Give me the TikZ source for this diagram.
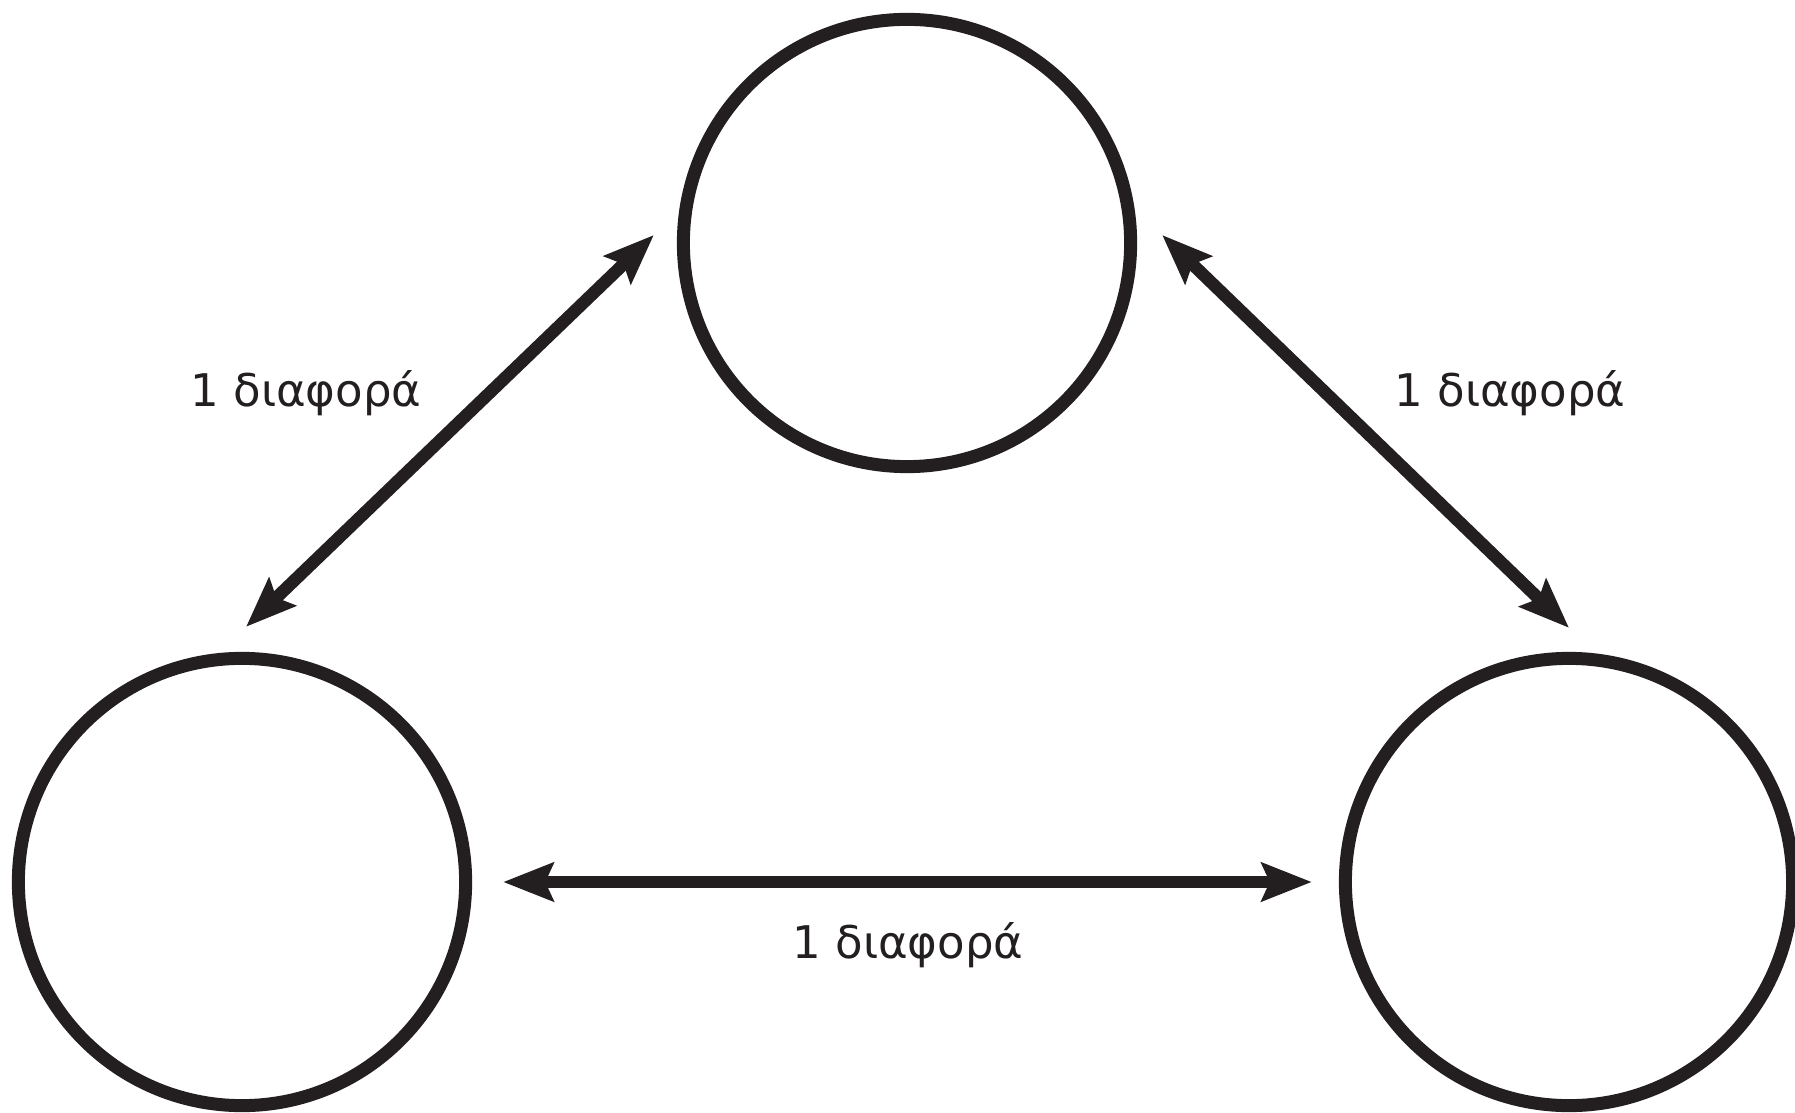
\documentclass[tikz,border=0pt]{standalone}
\usepackage{fontspec}
\setmainfont{DejaVu Sans}
\usepackage{tikz}
\usetikzlibrary{arrows.meta,calc}
\definecolor{ink}{HTML}{231F20}
\tikzset{x=0.01cm,y=-0.01cm,
circ/.style={circle,draw=ink,line width=0.13cm,minimum size=4.47cm,inner sep=0pt},
dbl/.style={draw=ink,line width=0.125cm,
  {Stealth[length=5mm,width=3.8mm,inset=0.8mm]}-{Stealth[length=5mm,width=3.8mm,inset=0.8mm]}},
el/.style={text=ink,font=\fontsize{12.8pt}{15pt}\selectfont,anchor=base,inner sep=0pt},
}
\begin{document}
\begin{tikzpicture}
	\useasboundingbox (0,0) rectangle (1795,1113);
	\node[circ] (top) at (907,243) {};
	\node[circ] (bl) at (242,882) {};
	\node[circ] (br) at (1569,882) {};

	\path
	($(bl.north)+(4,-25)$) edge[dbl] ($(top.west)+(-23,-8)$)
	($(top.east)+(25,-8)$) edge[dbl] ($(br.north)+(0,-24)$)
	($(bl.east)+(31,0)$) edge[dbl] ($(br.west)+(-27,0)$)
	;

	\node[el] (lab1) at (306,407) {1 διαφορά};
	\node[el] (lab2) at (1510,407) {1 διαφορά};
	\node[el] (lab3) at (908,958) {1 διαφορά};
\end{tikzpicture}
\end{document}
